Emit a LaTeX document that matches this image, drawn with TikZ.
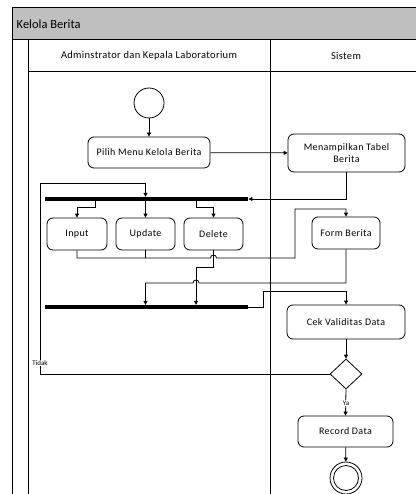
\documentclass[tikz,border=0pt]{standalone}
\usepackage{fontspec}
\setmainfont{Carlito}
\usetikzlibrary{arrows.meta,shapes.geometric}
\begin{document}
\begin{tikzpicture}[x=1pt,y=-1pt,line width=0.8pt,
  act/.style={draw,rounded corners=6pt,align=center,inner sep=0pt,
    font=\fontsize{10}{12}\selectfont\addfontfeature{LetterSpace=4}},
  flow/.style={-{Triangle[length=4pt,width=4pt]}},
  joinbar/.style={fill=black,draw=none,minimum width=203pt,minimum height=3.5pt,inner sep=0pt},
  lanetext/.style={font=\fontsize{10.5}{12}\selectfont\addfontfeature{LetterSpace=3}},
  guard/.style={fill=white,inner sep=0.5pt,font=\fontsize{7}{8}\selectfont}]
\useasboundingbox (0,0) rectangle (415,494);

% pool and lanes
\fill[black!25] (12,8) rectangle (420,40);
\draw[line width=1pt] (12,494) -- (12,8) -- (420,8);
\draw[line width=1pt] (12,40) -- (420,40);
\draw[line width=1pt] (28,40) -- (28,494);
\draw[line width=1pt] (28,72) -- (420,72);
\draw[line width=1pt] (270,40) -- (270,494);
\node[anchor=west,font=\fontsize{12.5}{14}\selectfont] (pool) at (13,24) {Kelola Berita};
\node[lanetext] (laneA) at (149,56) {Adminstrator dan Kepala Laboratorium};
\node[lanetext] (laneB) at (346,56) {Sistem};

% activities
\node[draw,circle,minimum size=30pt,inner sep=0pt] (start) at (149,103) {};
\node[act,minimum width=122pt,minimum height=31pt] (pilih) at (149,152.5) {Pilih Menu Kelola Berita};
\node[act,minimum width=117pt,minimum height=38pt] (tabel) at (346.5,153) {Menampilkan Tabel\\Berita};
\node[joinbar] (bar1) at (146.5,199) {};
\node[act,minimum width=60pt,minimum height=32pt] (input) at (77,234) {Input};
\node[act,minimum width=59pt,minimum height=32pt] (update) at (145.5,234) {Update};
\node[act,minimum width=59pt,minimum height=32pt] (delete) at (213.5,234) {Delete};
\node[act,minimum width=68pt,minimum height=32pt] (form) at (346,233) {Form Berita};
\node[joinbar] (bar2) at (146.5,307) {};
\node[act,minimum width=118pt,minimum height=34pt] (cek) at (346,322) {Cek Validitas Data};
\node[draw,diamond,minimum width=32pt,minimum height=30pt,inner sep=0pt] (dec) at (346,374) {};
\node[act,minimum width=95pt,minimum height=31pt] (rec) at (345.5,431.5) {Record Data};
\node[draw,circle,minimum size=32pt,inner sep=0pt] (stop) at (346,478) {};
\node[draw,circle,minimum size=25pt,inner sep=0pt] (stopin) at (346,478) {};

% bends of the connectors
\coordinate (djog) at (196,267);
\coordinate (ujog) at (145.5,258);

% connectors
\draw[flow] (start) -- (pilih);
\draw[flow] (pilih) -- (tabel);
\draw[flow] (tabel.south) |- (bar1.east);
\draw[flow] (95,199) -- (95,207) -| (input.north);
\draw[flow] (update.north |- bar1.south) -- (update.north);
\draw[flow] (196,199) -- (196,207) -| (delete.north);
\draw[flow] (dec.west) -- (40,374) -- (40,183) -| (update.north |- bar1.north);
\node[guard] (tidak) at (40,363) {Tidak};
\draw (update.south) -- (ujog);
\draw[flow] (input.south) -- (77,258) -- (210.5,258)
  .. controls (210.5,254) and (216.5,254) .. (216.5,258)
  -- (295,258) -- (295,209) -| (form.north);
\draw[flow] (delete.south) -- (213.5,267) -- (djog) -- (djog |- bar2.north);
\draw[flow] (form.south) -- (346,283) -- (199,283)
  .. controls (199,279) and (193,279) .. (193,283)
  -| (update.north |- bar2.north);
\draw[flow] (bar2.east) -- (263,307) -- (263,291) -| (cek.north);
\draw[flow] (cek) -- (dec);
\draw[flow] (dec.south) -- (rec.north);
\node[guard] (ya) at (346,403) {Ya};
\draw[flow] (rec) -- (stop);
\end{tikzpicture}
\end{document}
